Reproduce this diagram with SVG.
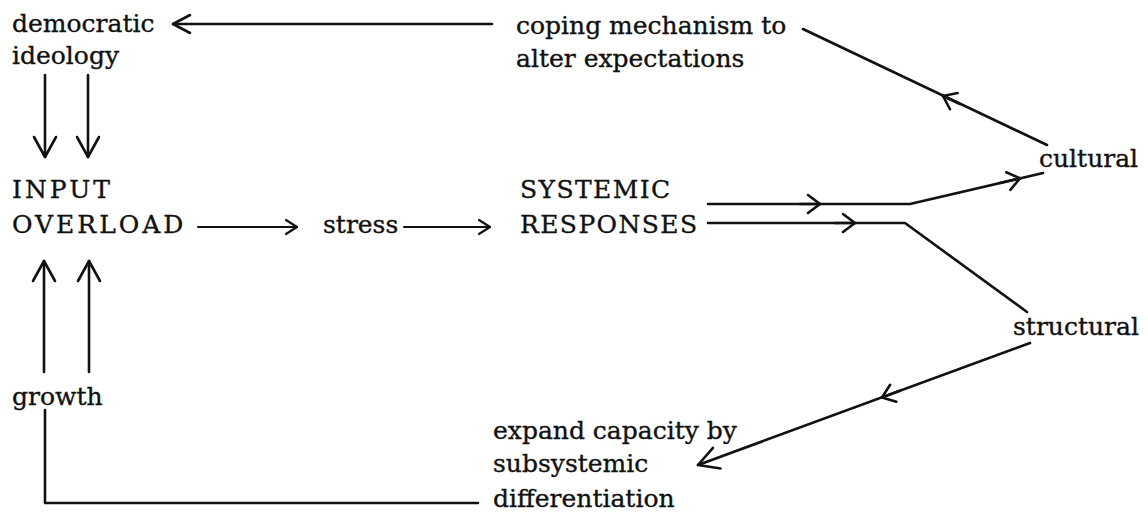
<svg xmlns="http://www.w3.org/2000/svg" width="1148" height="512" viewBox="0 0 1148 512">
  <style>
    .lbl { font-family: "DejaVu Serif", "Liberation Serif", serif; font-size: 25px; fill: #111; stroke: #111; stroke-width: 0.35; }
    .caps { letter-spacing: 3px; }
    .caps-tight { letter-spacing: 1.4px; }
    .wire { fill: none; stroke: #111; stroke-width: 2.6; stroke-linecap: round; stroke-linejoin: round; }
    .thin { stroke-width: 2.2; }
    .head { fill: none; stroke: #111; stroke-width: 2.6; stroke-linecap: round; stroke-linejoin: round; }
  </style>
  <defs>
    <marker id="arrowL" markerUnits="userSpaceOnUse" viewBox="-24 -14 28 28" refX="0" refY="0" markerWidth="28" markerHeight="28" orient="auto" overflow="visible">
      <path class="head" d="M -20 -11 L 0 0 L -20 11"/>
    </marker>
    <marker id="arrowD" markerUnits="userSpaceOnUse" viewBox="-24 -14 28 28" refX="0" refY="0" markerWidth="28" markerHeight="28" orient="auto" overflow="visible">
      <path class="head" d="M -17 -9 L 0 0 L -17 9"/>
    </marker>
    <marker id="arrowS" markerUnits="userSpaceOnUse" viewBox="-16 -10 20 20" refX="0" refY="0" markerWidth="20" markerHeight="20" orient="auto" overflow="visible">
      <path class="head" d="M -11 -7 L 0 0 L -11 7" style="stroke-width:2.2"/>
    </marker>
    <marker id="arrowM" markerUnits="userSpaceOnUse" viewBox="-16 -12 20 24" refX="0" refY="0" markerWidth="20" markerHeight="24" orient="auto" overflow="visible">
      <path class="head" d="M -12 -9 L 0 0 L -12 9"/>
    </marker>
  </defs>

  <g id="connectors">
    <!-- coping mechanism back to democratic ideology -->
    <path class="wire" d="M 492 24 L 173 24" marker-end="url(#arrowD)"/>
    <!-- cultural up to coping mechanism, with mid arrow -->
    <path class="wire" d="M 1047 145 L 803 29"/>
    <path class="wire" d="M 960 104 L 943 96" marker-end="url(#arrowM)"/>
    <!-- ideology down to input overload -->
    <path class="wire" d="M 45 75 L 45 157" marker-end="url(#arrowL)"/>
    <path class="wire" d="M 88 75 L 88 157" marker-end="url(#arrowL)"/>
    <!-- growth up to input overload -->
    <path class="wire" d="M 44 372 L 44 261" marker-end="url(#arrowL)"/>
    <path class="wire" d="M 89 372 L 89 261" marker-end="url(#arrowL)"/>
    <!-- overload to stress to systemic responses -->
    <path class="wire thin" d="M 198 227 L 297 227" marker-end="url(#arrowS)"/>
    <path class="wire thin" d="M 404 227 L 490 227" marker-end="url(#arrowS)"/>
    <!-- systemic responses to cultural -->
    <path class="wire" d="M 708 204 L 910 204 L 1043 173"/>
    <path class="wire" d="M 800 204 L 820 204" marker-end="url(#arrowM)"/>
    <path class="wire" d="M 1000 183 L 1020 178.3" marker-end="url(#arrowM)"/>
    <!-- systemic responses to structural -->
    <path class="wire" d="M 708 223 L 905 223 L 1027 312"/>
    <path class="wire" d="M 835 223 L 855 223" marker-end="url(#arrowM)"/>
    <!-- structural to expand capacity, with mid arrow -->
    <path class="wire" d="M 1030 343 L 698 465" marker-end="url(#arrowL)"/>
    <path class="wire" d="M 900 390.8 L 882 397.4" marker-end="url(#arrowM)"/>
    <!-- differentiation back to growth -->
    <path class="wire" d="M 478 503 L 45 503 L 45 410"/>
  </g>

  <g id="democratic-ideology">
    <text class="lbl" x="12" y="32">democratic</text>
    <text class="lbl" x="12" y="64">ideology</text>
  </g>
  <g id="coping-mechanism">
    <text class="lbl" x="516" y="34">coping mechanism to</text>
    <text class="lbl" x="516" y="67">alter expectations</text>
  </g>
  <g id="input-overload">
    <text class="lbl caps" x="12" y="198">INPUT</text>
    <text class="lbl caps" x="12" y="233">OVERLOAD</text>
  </g>
  <g id="stress">
    <text class="lbl" x="323" y="233">stress</text>
  </g>
  <g id="systemic-responses">
    <text class="lbl caps-tight" x="520" y="198">SYSTEMIC</text>
    <text class="lbl caps-tight" x="520" y="233">RESPONSES</text>
  </g>
  <g id="cultural">
    <text class="lbl" x="1039" y="167">cultural</text>
  </g>
  <g id="structural">
    <text class="lbl" x="1013" y="335">structural</text>
  </g>
  <g id="growth">
    <text class="lbl" x="12" y="405">growth</text>
  </g>
  <g id="expand-capacity">
    <text class="lbl" x="493" y="439">expand capacity by</text>
    <text class="lbl" x="493" y="472">subsystemic</text>
    <text class="lbl" x="493" y="507">differentiation</text>
  </g>
</svg>
